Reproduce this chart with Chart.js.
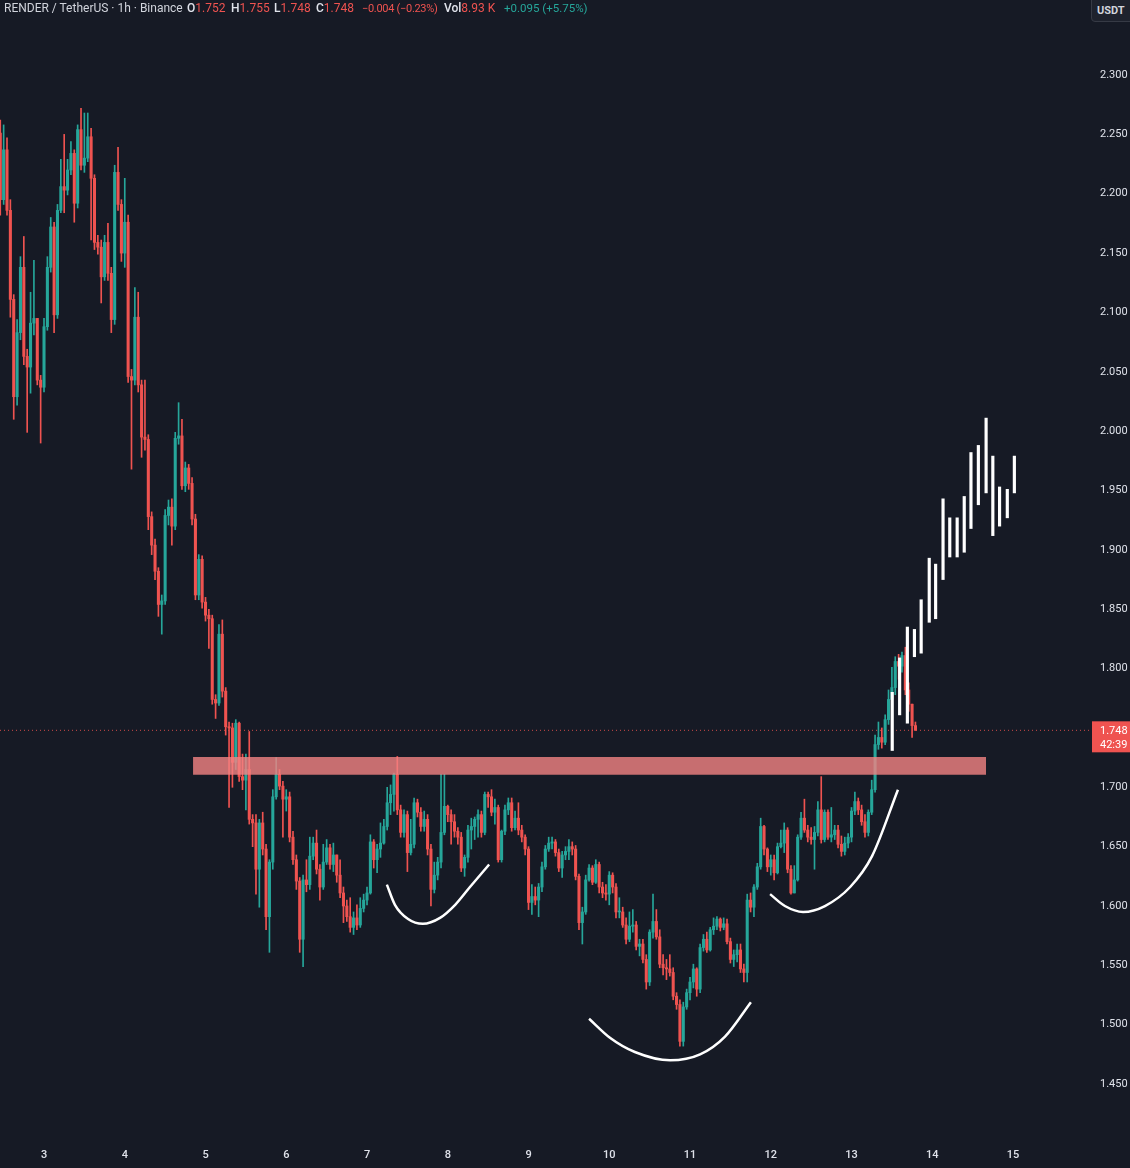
<!DOCTYPE html>
<html>
<head>
<meta charset="utf-8">
<title>RENDER / TetherUS 1h</title>
<script src="https://cdn.jsdelivr.net/npm/chart.js@4.4.1/dist/chart.umd.min.js"></script>
<style>
  html, body { margin: 0; padding: 0; background: #161a25; overflow: hidden; }
  #wrap { position: relative; width: 1130px; height: 1168px; }
  #chart { position: absolute; left: 0; top: 0; }
  #legend span {
    position: absolute; top: 1px;
    font: 12px Roboto, sans-serif; color: #d1d4dc; white-space: nowrap;
  }
  #legend i { font-style: normal; font-weight: 500; color: #e0e3eb; }
  #legend b { font-weight: normal; color: #ef5350; }
  #legend .dn { color: #ef5350; font-size: 11px; top: 2px; letter-spacing: -0.3px; }
  #legend .up { color: #26a69a; font-size: 11.5px; }
  #unit {
    position: absolute; right: -1px; top: -1px; width: 33px; height: 21px;
    background: #1e222d; border: 1px solid #363a45; border-radius: 0 0 0 4px;
    font: bold 11px Roboto, sans-serif; color: #d1d4dc; line-height: 22px; padding-left: 5px;
  }
</style>
</head>
<body>
<div id="wrap">
  <canvas id="chart" width="1130" height="1168"></canvas>
  <div id="legend">
    <span style="left:4px">RENDER / TetherUS · 1h · Binance</span>
    <span style="left:187px"><i>O</i><b>1.752</b></span>
    <span style="left:231px"><i>H</i><b>1.755</b></span>
    <span style="left:274px"><i>L</i><b>1.748</b></span>
    <span style="left:316px"><i>C</i><b>1.748</b></span>
    <span class="dn" style="left:362px">−0.004 (−0.23%)</span>
    <span style="left:444px"><i>Vol</i><b>8.93 K</b></span>
    <span class="up" style="left:504px">+0.095 (+5.75%)</span>
  </div>
  <div id="unit">USDT</div>
</div>
<script>
// candles: hour 0 = day 3 00:00, first candle at hour -13
const firstHour = -13;
const firstOpen = 2.251;

const closes = [
  2.195, 2.237, 2.186, 2.111, 2.029, 2.083, 2.138, 2.063, 2.054, 2.091, 2.095, 2.043, 2.037,
  2.088, 2.138, 2.172, 2.098, 2.186, 2.206, 2.203, 2.220, 2.234, 2.192, 2.254, 2.224,
  2.230, 2.248, 2.213, 2.159, 2.155, 2.130, 2.159, 2.133, 2.094, 2.218, 2.191, 2.150,
  2.176, 2.046, 2.043, 2.096, 2.039, 1.995, 1.993, 1.928, 1.904, 1.882, 1.854, 1.857,
  1.929, 1.936, 1.920, 1.994, 1.996, 1.954, 1.969, 1.956, 1.926, 1.862, 1.892, 1.856,
  1.845, 1.842, 1.774, 1.771, 1.829, 1.781, 1.751, 1.750, 1.721, 1.754, 1.709, 1.706,
  1.715, 1.673, 1.670, 1.631, 1.670, 1.648, 1.591, 1.637, 1.692, 1.711, 1.701, 1.690,
  1.692, 1.658, 1.639, 1.621, 1.572, 1.622, 1.618, 1.642, 1.653, 1.631, 1.616, 1.637,
  1.649, 1.635, 1.643, 1.626, 1.611, 1.600, 1.591, 1.582, 1.590, 1.584, 1.598, 1.605,
  1.611, 1.654, 1.639, 1.648, 1.653, 1.667, 1.687, 1.694, 1.711, 1.681, 1.662, 1.677,
  1.645, 1.652, 1.687, 1.679, 1.667, 1.673, 1.648, 1.614, 1.626, 1.637, 1.662, 1.684,
  1.677, 1.671, 1.663, 1.658, 1.632, 1.641, 1.664, 1.667, 1.673, 1.677, 1.662, 1.694,
  1.692, 1.679, 1.683, 1.639, 1.663, 1.681, 1.687, 1.666, 1.674, 1.664, 1.658, 1.648,
  1.603, 1.608, 1.605, 1.616, 1.633, 1.648, 1.653, 1.654, 1.645, 1.632, 1.643, 1.646,
  1.650, 1.648, 1.625, 1.586, 1.595, 1.622, 1.632, 1.620, 1.635, 1.616, 1.611, 1.610,
  1.626, 1.616, 1.595, 1.595, 1.584, 1.572, 1.583, 1.584, 1.566, 1.568, 1.555, 1.536,
  1.578, 1.587, 1.574, 1.551, 1.548, 1.547, 1.544, 1.524, 1.517, 1.486, 1.515, 1.527,
  1.536, 1.547, 1.530, 1.565, 1.572, 1.563, 1.580, 1.583, 1.589, 1.582, 1.585, 1.570,
  1.555, 1.559, 1.563, 1.547, 1.544, 1.605, 1.599, 1.616, 1.633, 1.667, 1.648, 1.633,
  1.639, 1.628, 1.650, 1.653, 1.664, 1.631, 1.611, 1.622, 1.658, 1.674, 1.664, 1.658,
  1.656, 1.662, 1.681, 1.656, 1.679, 1.658, 1.660, 1.664, 1.652, 1.646, 1.653, 1.658,
  1.680, 1.688, 1.681, 1.671, 1.662, 1.679, 1.698, 1.736, 1.742, 1.738, 1.757, 1.774,
  1.784, 1.806, 1.802, 1.811, 1.782, 1.770, 1.752, 1.748
];

const highs = [
  2.262, 2.258, 2.247, 2.195, 2.115, 2.094, 2.147, 2.164, 2.069, 2.117, 2.144, 2.095, 2.047,
  2.095, 2.147, 2.180, 2.176, 2.191, 2.229, 2.250, 2.229, 2.244, 2.237, 2.258, 2.272,
  2.268, 2.268, 2.255, 2.216, 2.165, 2.161, 2.165, 2.175, 2.138, 2.224, 2.239, 2.195,
  2.213, 2.182, 2.052, 2.121, 2.117, 2.043, 2.043, 1.997, 1.932, 1.909, 1.885, 1.862,
  1.934, 1.942, 1.943, 1.999, 2.024, 2.010, 1.974, 1.972, 1.961, 1.930, 1.896, 1.895,
  1.860, 1.850, 1.845, 1.778, 1.837, 1.841, 1.784, 1.755, 1.754, 1.757, 1.755, 1.728,
  1.728, 1.747, 1.677, 1.677, 1.673, 1.679, 1.652, 1.639, 1.698, 1.725, 1.715, 1.705,
  1.698, 1.696, 1.663, 1.643, 1.624, 1.626, 1.639, 1.658, 1.658, 1.664, 1.635, 1.652,
  1.656, 1.652, 1.653, 1.637, 1.639, 1.616, 1.605, 1.607, 1.595, 1.601, 1.607, 1.610,
  1.616, 1.660, 1.656, 1.652, 1.670, 1.673, 1.700, 1.702, 1.712, 1.726, 1.685, 1.681,
  1.680, 1.673, 1.691, 1.690, 1.683, 1.680, 1.677, 1.652, 1.637, 1.641, 1.711, 1.711,
  1.685, 1.681, 1.677, 1.666, 1.662, 1.643, 1.668, 1.674, 1.675, 1.681, 1.680, 1.696,
  1.696, 1.698, 1.690, 1.685, 1.664, 1.685, 1.691, 1.691, 1.680, 1.687, 1.668, 1.660,
  1.650, 1.618, 1.616, 1.619, 1.637, 1.651, 1.658, 1.658, 1.656, 1.648, 1.646, 1.650,
  1.656, 1.654, 1.651, 1.627, 1.599, 1.626, 1.635, 1.634, 1.639, 1.637, 1.620, 1.618,
  1.629, 1.628, 1.619, 1.607, 1.599, 1.590, 1.595, 1.597, 1.587, 1.572, 1.572, 1.559,
  1.580, 1.610, 1.597, 1.580, 1.559, 1.555, 1.559, 1.548, 1.527, 1.521, 1.519, 1.530,
  1.540, 1.551, 1.548, 1.568, 1.576, 1.578, 1.582, 1.590, 1.591, 1.590, 1.590, 1.589,
  1.573, 1.563, 1.568, 1.568, 1.551, 1.610, 1.611, 1.618, 1.636, 1.674, 1.668, 1.649,
  1.643, 1.643, 1.653, 1.664, 1.670, 1.666, 1.634, 1.634, 1.660, 1.679, 1.690, 1.668,
  1.666, 1.667, 1.688, 1.709, 1.681, 1.681, 1.683, 1.668, 1.668, 1.659, 1.658, 1.661,
  1.683, 1.696, 1.691, 1.685, 1.677, 1.681, 1.706, 1.744, 1.755, 1.750, 1.761, 1.782,
  1.801, 1.810, 1.812, 1.814, 1.818, 1.788, 1.770, 1.755
];

const lows = [
  2.182, 2.191, 2.182, 2.096, 2.010, 2.022, 2.077, 2.056, 1.999, 2.032, 2.081, 2.039, 1.990,
  2.033, 2.085, 2.134, 2.083, 2.095, 2.184, 2.184, 2.199, 2.216, 2.176, 2.188, 2.220,
  2.218, 2.227, 2.161, 2.153, 2.149, 2.108, 2.127, 2.127, 2.083, 2.090, 2.186, 2.143,
  2.138, 2.041, 1.968, 2.039, 2.033, 1.978, 1.984, 1.917, 1.896, 1.875, 1.844, 1.829,
  1.854, 1.921, 1.904, 1.917, 1.989, 1.951, 1.949, 1.951, 1.921, 1.858, 1.858, 1.851,
  1.840, 1.817, 1.770, 1.758, 1.769, 1.776, 1.744, 1.683, 1.700, 1.715, 1.705, 1.698,
  1.681, 1.669, 1.650, 1.610, 1.599, 1.643, 1.580, 1.561, 1.631, 1.690, 1.698, 1.658,
  1.680, 1.654, 1.635, 1.614, 1.561, 1.549, 1.612, 1.614, 1.639, 1.627, 1.605, 1.614,
  1.635, 1.631, 1.629, 1.620, 1.607, 1.586, 1.587, 1.578, 1.576, 1.580, 1.582, 1.595,
  1.601, 1.610, 1.632, 1.628, 1.641, 1.652, 1.664, 1.677, 1.680, 1.677, 1.658, 1.658,
  1.629, 1.643, 1.649, 1.675, 1.663, 1.663, 1.643, 1.600, 1.611, 1.622, 1.632, 1.660,
  1.671, 1.652, 1.658, 1.652, 1.629, 1.625, 1.637, 1.648, 1.656, 1.658, 1.658, 1.660,
  1.683, 1.676, 1.669, 1.637, 1.637, 1.660, 1.677, 1.663, 1.664, 1.660, 1.654, 1.643,
  1.597, 1.593, 1.601, 1.591, 1.612, 1.631, 1.646, 1.648, 1.642, 1.629, 1.624, 1.639,
  1.639, 1.643, 1.622, 1.580, 1.568, 1.593, 1.621, 1.618, 1.619, 1.611, 1.607, 1.605,
  1.601, 1.611, 1.590, 1.590, 1.582, 1.568, 1.570, 1.578, 1.563, 1.558, 1.552, 1.530,
  1.533, 1.573, 1.572, 1.548, 1.542, 1.538, 1.541, 1.521, 1.513, 1.482, 1.482, 1.513,
  1.521, 1.531, 1.524, 1.527, 1.562, 1.561, 1.562, 1.576, 1.580, 1.579, 1.580, 1.568,
  1.552, 1.549, 1.553, 1.544, 1.536, 1.536, 1.595, 1.591, 1.614, 1.631, 1.643, 1.629,
  1.626, 1.622, 1.627, 1.649, 1.645, 1.628, 1.610, 1.614, 1.621, 1.656, 1.662, 1.654,
  1.652, 1.631, 1.659, 1.653, 1.654, 1.656, 1.654, 1.656, 1.649, 1.642, 1.643, 1.649,
  1.654, 1.677, 1.677, 1.668, 1.658, 1.659, 1.677, 1.696, 1.732, 1.733, 1.736, 1.753,
  1.770, 1.778, 1.791, 1.797, 1.778, 1.764, 1.742, 1.748
];

// projected path (white bars pattern)
const projHours = [252.1, 254.3, 256.6, 258.7, 260.7, 263.1, 265.0, 267.2, 269.2, 271.4, 273.5, 275.5, 277.7, 280.0, 282.0, 284.0, 286.3, 288.4];
const projHighs = [1.780, 1.809, 1.835, 1.833, 1.858, 1.893, 1.888, 1.943, 1.927, 1.927, 1.945, 1.982, 1.988, 2.011, 1.979, 1.953, 1.951, 1.979];
const projLows  = [1.731, 1.761, 1.754, 1.810, 1.813, 1.839, 1.842, 1.875, 1.894, 1.894, 1.898, 1.918, 1.938, 1.948, 1.912, 1.920, 1.927, 1.948];

// hand drawn cups
const cupLeftHours = [101.9, 104.3, 108.2, 112.6, 117.7, 122.2, 126.6, 132.3];
const cupLeftPrices = [1.618, 1.601, 1.589, 1.585, 1.590, 1.601, 1.616, 1.635];
const cupMidHours = [162.0, 168.2, 175.6, 186.1, 195.0, 202.4, 210.1];
const cupMidPrices = [1.505, 1.489, 1.477, 1.470, 1.475, 1.490, 1.519];
const cupRightHours = [215.8, 220.2, 225.6, 232.1, 239.6, 246.1, 253.8];
const cupRightPrices = [1.610, 1.600, 1.595, 1.600, 1.616, 1.642, 1.698];

// resistance zone
const zoneHours = [44.3, 280.0];
const zoneTop = 1.7255;
const zoneBottom = 1.7105;

// axis ranges
const xMin = -13.08, xMax = 310.88;
const yMin = 1.4029, yMax = 2.3632;

const UP = '#26a69a';
const DOWN = '#ef5350';
const AXIS_TEXT = '#dfe2ea';

const hours = closes.map((_, i) => firstHour + i);
const opens = closes.map((c, i) => i === 0 ? firstOpen : closes[i - 1]);
const lastClose = closes[closes.length - 1];

const candleColors = closes.map((c, i) => c >= opens[i] ? UP : DOWN);
const bodies = hours.map((h, i) => ({ x: h, y: [opens[i], closes[i]] }));
const wicks = hours.map((h, i) => ({
  x: h,
  y: [Math.min(lows[i], opens[i], closes[i]), Math.max(highs[i], opens[i], closes[i])]
}));
const projBars = projHours.map((h, i) => ({ x: h, y: [projLows[i], projHighs[i]] }));

function toPoints(xs, ys) {
  return xs.map((x, i) => ({ x: x, y: ys[i] }));
}

function cupLine(xs, ys) {
  return {
    type: 'line',
    data: toPoints(xs, ys),
    borderColor: '#ffffff',
    borderWidth: 2.5,
    pointRadius: 0,
    cubicInterpolationMode: 'monotone',
    fill: false,
    order: 1
  };
}

// price tag on the right scale
const lastPriceTag = {
  id: 'lastPriceTag',
  afterDraw(chart) {
    const { ctx, scales: { y } } = chart;
    const py = y.getPixelForValue(lastClose);
    ctx.save();
    ctx.fillStyle = DOWN;
    ctx.fillRect(y.left + 2, py - 9, y.right - y.left - 2, 31);
    ctx.fillStyle = '#ffffff';
    ctx.font = '11px Roboto';
    ctx.textBaseline = 'middle';
    ctx.fillText(lastClose.toFixed(3), y.left + 10, py + 1);
    ctx.fillText('42:39', y.left + 10, py + 15);
    ctx.restore();
  }
};

new Chart(document.getElementById('chart').getContext('2d'), {
  type: 'bar',
  data: {
    datasets: [
      {
        type: 'line',
        data: toPoints(zoneHours, [zoneTop, zoneTop]),
        borderColor: 'rgba(0,0,0,0)',
        borderWidth: 0,
        pointRadius: 0,
        backgroundColor: 'rgba(244,131,131,0.8)',
        fill: '+1',
        order: 0
      },
      {
        type: 'line',
        data: toPoints(zoneHours, [zoneBottom, zoneBottom]),
        borderColor: 'rgba(0,0,0,0)',
        borderWidth: 0,
        pointRadius: 0,
        fill: false,
        order: 0
      },
      cupLine(cupLeftHours, cupLeftPrices),
      cupLine(cupMidHours, cupMidPrices),
      cupLine(cupRightHours, cupRightPrices),
      {
        data: projBars,
        backgroundColor: '#ffffff',
        barThickness: 2.5,
        stack: 'all',
        order: 2
      },
      {
        data: bodies,
        backgroundColor: candleColors,
        barThickness: 2.4,
        minBarLength: 1,
        stack: 'all',
        order: 3
      },
      {
        data: wicks,
        backgroundColor: candleColors,
        barThickness: 1,
        stack: 'all',
        order: 4
      },
      {
        type: 'line',
        data: toPoints([xMin, xMax], [lastClose, lastClose]),
        borderColor: 'rgba(239,83,80,0.85)',
        borderWidth: 1,
        borderDash: [1, 3],
        pointRadius: 0,
        fill: false,
        order: 5
      }
    ]
  },
  options: {
    responsive: false,
    animation: false,
    layout: { padding: 0 },
    plugins: {
      legend: { display: false },
      tooltip: { enabled: false }
    },
    scales: {
      x: {
        type: 'linear',
        min: xMin,
        max: xMax,
        offset: false,
        grid: { display: false, drawTicks: false },
        border: { display: false },
        ticks: {
          stepSize: 24,
          includeBounds: false,
          autoSkip: false,
          maxRotation: 0,
          padding: 9,
          color: AXIS_TEXT,
          font: { size: 11, family: 'Roboto', weight: '500' },
          callback: v => String(Math.round(v / 24) + 3)
        },
        afterFit: s => {
          s.height = 28;
          s.paddingLeft = 0;
          s.paddingRight = 0;
        }
      },
      y: {
        position: 'right',
        min: yMin,
        max: yMax,
        stacked: false,
        grid: { display: false, drawTicks: false },
        border: { display: false },
        ticks: {
          stepSize: 0.05,
          includeBounds: false,
          padding: 10,
          color: AXIS_TEXT,
          font: { size: 11, family: 'Roboto' },
          callback: v => v > 2.31 ? '' : v.toFixed(3)
        },
        afterFit: s => {
          s.width = 40;
          s.paddingTop = 0;
          s.paddingBottom = 0;
        }
      }
    }
  },
  plugins: [lastPriceTag]
});
</script>
</body>
</html>
